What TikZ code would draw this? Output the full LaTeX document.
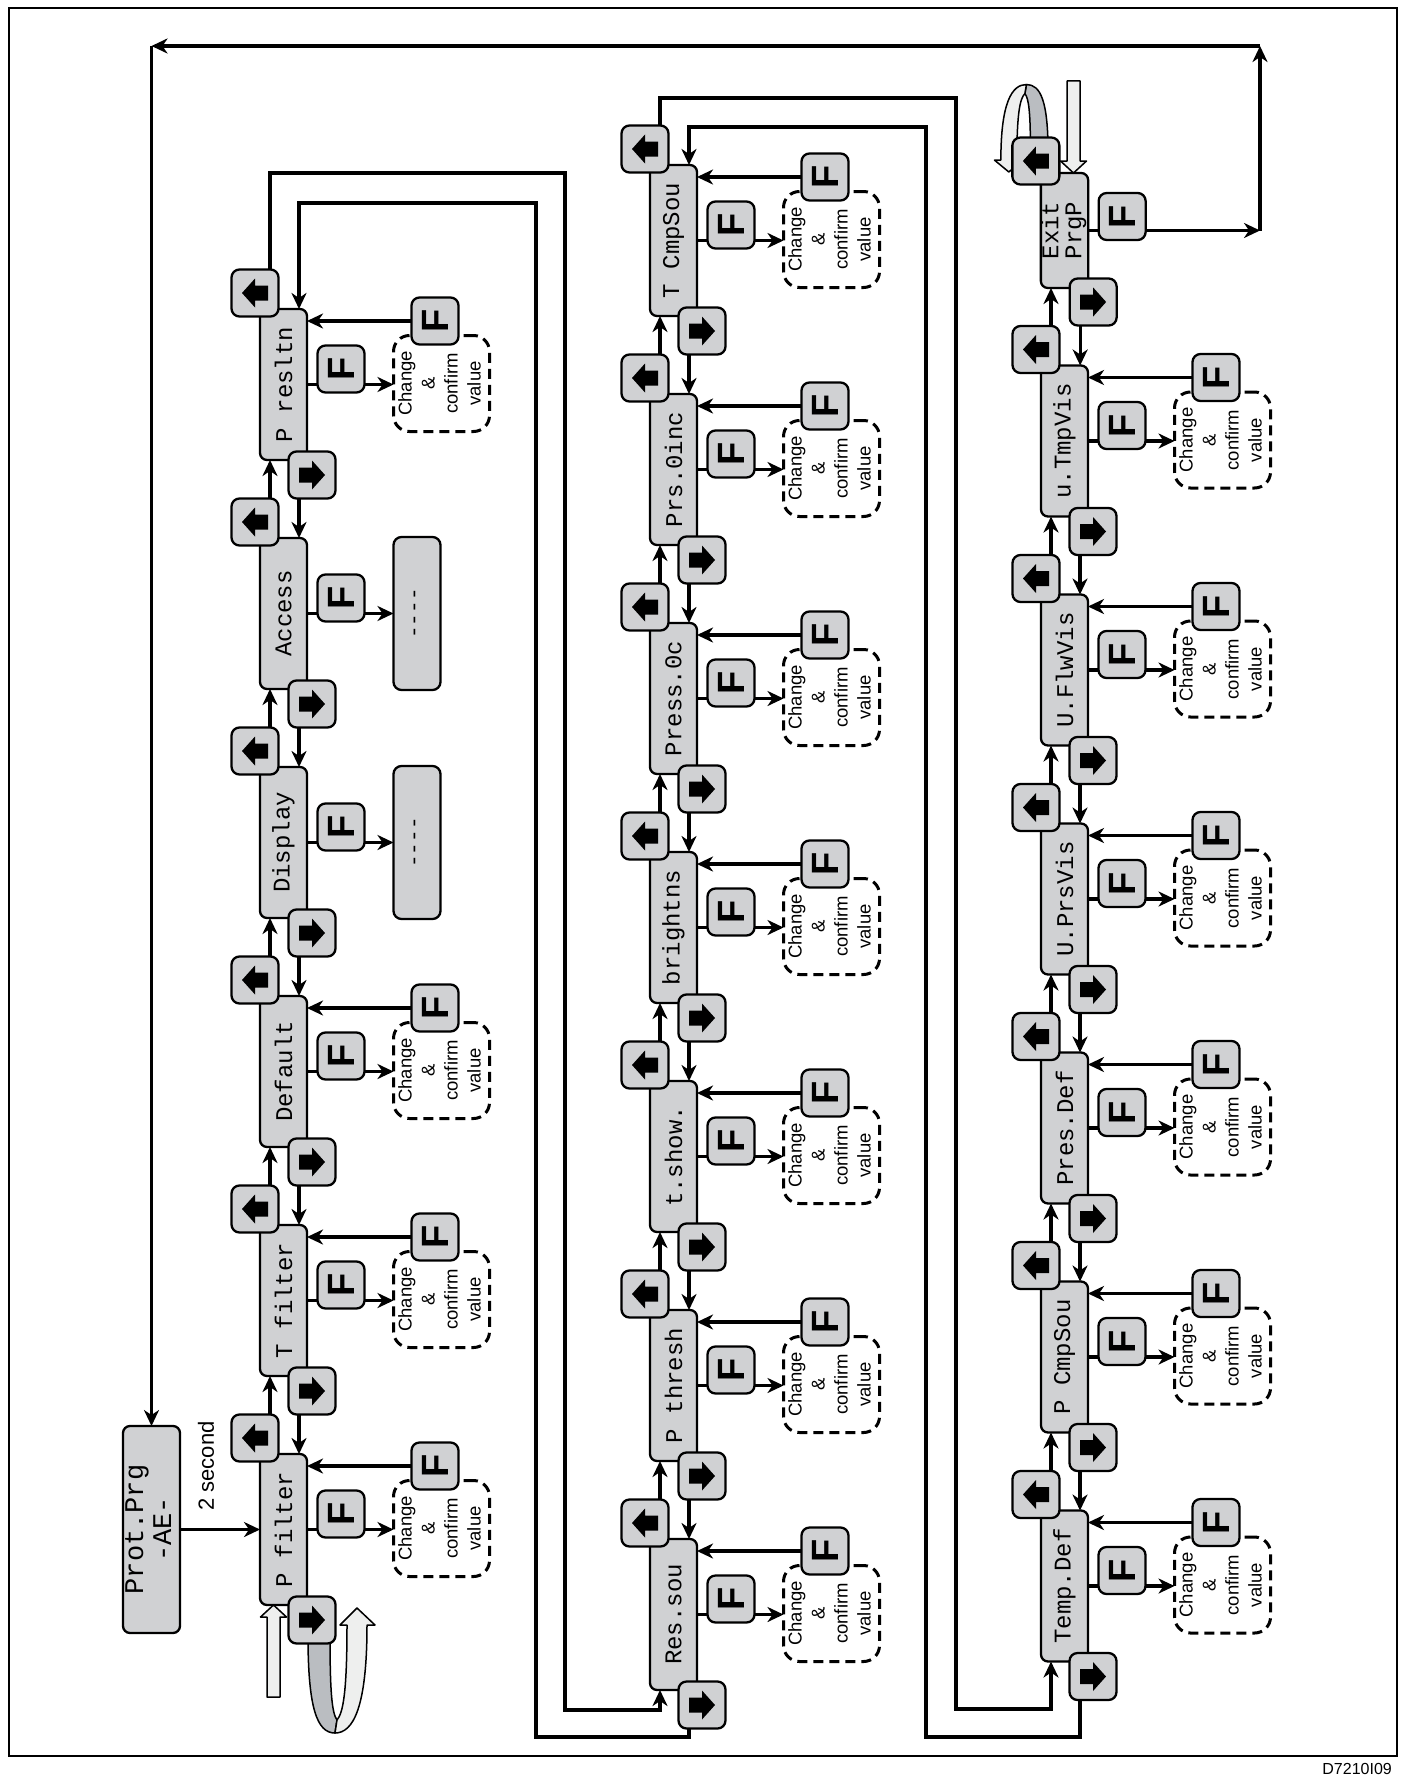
\documentclass[tikz,border=0pt]{standalone}
\usepackage{graphicx}
\usepackage{fontspec}
\setmainfont{Liberation Sans}
\newfontfamily\lcdfont{Liberation Mono}
\usetikzlibrary{arrows.meta,calc,backgrounds}

\definecolor{lcdgray}{RGB}{208,209,211}
\definecolor{hollowfill}{RGB}{238,239,238}
\definecolor{loopgray}{RGB}{186,189,193}

\newcommand{\lcd}[1]{\rotatebox{90}{\lcdfont\fontsize{24}{23}\selectfont #1}}
\newcommand{\rtext}[1]{\rotatebox{90}{\fontsize{18.5}{23}\selectfont\begin{tabular}{@{}c@{}}#1\end{tabular}}}

\tikzset{
  conn/.style={line width=3.2pt},
  lcdbox/.style={draw,line width=2.3pt,fill=lcdgray,rounded corners=7pt,
    minimum width=47pt,minimum height=151pt,inner sep=0pt,outer sep=0pt},
  key/.style={draw,line width=2.3pt,fill=lcdgray,rounded corners=8pt,
    minimum size=47pt,inner sep=0pt,outer sep=0pt},
  fkey/.style={key,font=\fontsize{38}{38}\selectfont\bfseries},
  valbox/.style={draw,line width=3pt,dash pattern=on 10pt off 6pt,rounded corners=16pt,
    minimum size=96pt,inner sep=0pt,outer sep=0pt},
  dotbox/.style={draw,line width=2.3pt,fill=lcdgray,rounded corners=8pt,
    minimum width=47pt,minimum height=153pt,inner sep=0pt,outer sep=0pt},
  hollow/.style={draw,line width=1.5pt,fill=hollowfill,line join=round},
  hollowarrow/.pic={
    \draw[hollow] (0,0) -- (13,12) -- (6.5,12) -- (6.5,92) -- (-6.5,92) -- (-6.5,12) -- (-13,12) -- cycle;
  },
  looparrow/.pic={
    \draw[line width=1.5pt,fill=loopgray,line join=round] (-49,28) -- (-27,28)
      .. controls (-27,85) and (-25,105) .. (-20,112) -- (-22,125)
      .. controls (-40,125) and (-49,100) .. (-49,28) -- cycle;
    \draw[hollow] (0,0) -- (18,17) -- (10,17) .. controls (10,100) and (-4,125) .. (-22,125)
      -- (-20,112) .. controls (-14,105) and (-10,85) .. (-10,17) -- (-17,17) -- cycle;
  }
}

% one column of menu entries: #1 name, #2 x, #3 y of lowest box, #4 entries
\newcommand{\menucol}[4]{%
  \foreach \t/\k [count=\i] in {#4}{
    \node[lcdbox] (#1-\i) at (#2,{#3-229*(\i-1)}) {\lcd{\t}};
    \node[key] (#1-\i-l) at ($(#1-\i.north west)+(-5,-16)$) {};
    \node[key] (#1-\i-r) at ($(#1-\i.south east)+(5,15)$) {};
    \fill (#1-\i-l.center) ++(-13,0) -- ++(13,-14.5) -- ++(0,7) -- ++(13,0) -- ++(0,15) -- ++(-13,0) -- ++(0,7) -- cycle;
    \fill (#1-\i-r.center) ++(13,0) -- ++(-13,-14.5) -- ++(0,7) -- ++(-13,0) -- ++(0,15) -- ++(13,0) -- ++(0,7) -- cycle;
    \ifnum\k=1
      \node[valbox] (#1-\i-v) at ($(#1-\i.east)+(134.5,-1)$) {\rtext{Change\\\&\\confirm\\value}};
      \node[fkey] (#1-\i-t) at ($(#1-\i.north east)+(128,12)$) {\rotatebox{90}{F}};
      \begin{scope}[on background layer]
        \draw[conn,->] (#1-\i-t.west) -- (#1-\i-t.west -| #1-\i.east);
      \end{scope}
    \else
      \node[dotbox] (#1-\i-v) at ($(#1-\i.east)+(110,0)$) {\rotatebox{90}{\lcdfont\fontsize{21}{21}\selectfont -{}-{}-{}-}};
    \fi
    \node[fkey] (#1-\i-f) at ($(#1-\i.east)+(34,-15.5)$) {\rotatebox{90}{F}};
    \begin{scope}[on background layer]
      \draw[conn,->] (#1-\i.east) -- (#1-\i.east -| #1-\i-v.west);
      \ifnum\i>1
        \pgfmathtruncatemacro\h{\i-1}
        \draw[conn,->] ([xshift=15pt]#1-\h-l.north) -- ([xshift=15pt]#1-\h-l.north |- #1-\i.south);
        \draw[conn,->] ([xshift=-13pt]#1-\i-r.south) -- ([xshift=-13pt]#1-\i-r.south |- #1-\h.north);
      \fi
    \end{scope}
  }}

\begin{document}
\begin{tikzpicture}[x=1pt,y=-1pt,>={Stealth[length=16pt,width=15pt,inset=5pt]}]
  \useasboundingbox (0,0) rectangle (1406,1782);
  \draw[line width=1.6pt] (9,8) rectangle (1397,1756);

  \menucol{c1}{283.5}{1529.5}{P filter/1,T filter/1,Default/1,Display/0,Access/0,P resltn/1}
  \menucol{c2}{673.5}{1614.5}{Res.sou/1,P thresh/1,t.show./1,brightns/1,Press.0c/1,Prs.0inc/1,T CmpSou/1}
  \menucol{c3}{1064.5}{1586}{Temp.Def/1,P CmpSou/1,Pres.Def/1,U.PrsVis/1,U.FlwVis/1,u.TmpVis/1}

  % last entry
  \node[lcdbox,minimum height=115pt] (exit) at (1064.5,230.5)
    {\lcd{\begin{tabular}{@{}c@{}}Exit\\PrgP\end{tabular}}};
  \node[key] (exit-l) at ($(exit.north west)+(-5,-12)$) {};
  \node[key] (exit-r) at ($(exit.south east)+(5,14)$) {};
  \fill (exit-l.center) ++(-13,0) -- ++(13,-14.5) -- ++(0,7) -- ++(13,0) -- ++(0,15) -- ++(-13,0) -- ++(0,7) -- cycle;
  \fill (exit-r.center) ++(13,0) -- ++(-13,-14.5) -- ++(0,7) -- ++(-13,0) -- ++(0,15) -- ++(13,0) -- ++(0,7) -- cycle;
  \node[fkey] (exit-f) at ($(exit.east)+(34,-14)$) {\rotatebox{90}{F}};

  % start
  \node[lcdbox,minimum width=57pt,minimum height=207pt] (prot) at (151.5,1529.5)
    {\rotatebox{90}{\lcdfont\fontsize{27}{28}\selectfont\begin{tabular}{@{}c@{}}Prot.Prg\\-AE-\end{tabular}}};
  \node (sec) at (206,1466) {\rotatebox{90}{\fontsize{22}{22}\selectfont 2 second}};
  \node[anchor=south east,inner sep=0pt,font=\fontsize{16}{16}\selectfont] (code) at (1392,1775) {D7210I09};

  \coordinate (rx) at (1260,46);
  \coordinate (exitturn) at (exit.east -| rx);
  \coordinate (topturn) at (rx -| prot.north);

  \begin{scope}[on background layer]
    \draw[conn,->] (prot.east) -- (prot.east -| c1-1.west);
    \draw[conn,->] ([xshift=15pt]c1-6-l.north) |- (565,173) -- (565,1710) -| ([xshift=10pt]c2-1.south west);
    \draw[conn,->] ([xshift=-13pt]c2-1-r.south) |- (536,1737) -- (536,203) -| ([xshift=-8pt]c1-6.north east);
    \draw[conn,->] ([xshift=15pt]c2-7-l.north) |- (956,98) -- (956,1709) -| ([xshift=10pt]c3-1.south west);
    \draw[conn,->] ([xshift=-13pt]c3-1-r.south) |- (926,1737) -- (926,127) -| ([xshift=-8pt]c2-7.north east);
    \draw[conn,->] ([xshift=15pt]c3-6-l.north) -- ([xshift=15pt]c3-6-l.north |- exit.south);
    \draw[conn,->] ([xshift=-13pt]exit-r.south) -- ([xshift=-13pt]exit-r.south |- c3-6.north);
    \draw[conn,->] (exit.east) -- (exitturn);
    \draw[conn,->] (exitturn) -- (rx);
    \draw[conn,->] (rx) -- (topturn);
    \draw[conn,->] (topturn) -- (prot.north);
    \pic at ([xshift=-10pt]c1-1.south) {hollowarrow};
    \pic at ($(c1-1.south east)+(50,3)$) {looparrow};
    \pic[rotate=180] at ([xshift=9pt]exit.north) {hollowarrow};
    \pic[rotate=180,xscale=0.8,yscale=0.7] at ($(exit.north west)+(-32,-1)$) {looparrow};
  \end{scope}
\end{tikzpicture}
\end{document}
